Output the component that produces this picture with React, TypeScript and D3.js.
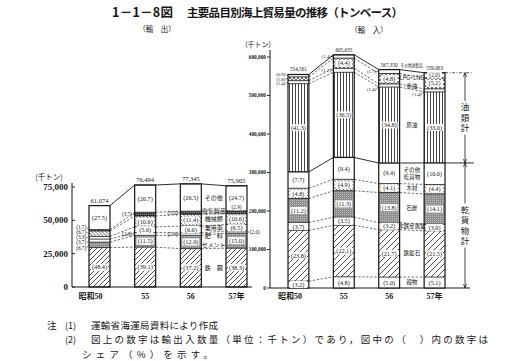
import React from 'react';
import * as d3 from 'd3';

// ---------------- data ----------------
const years = ['50', '55', '56', '57'];
const yearLabels = ['昭和50', '55', '56', '57年'];

// 輸出 (exports) – shares in %, bottom to top
const exportCategories = ['鉄　鋼', 'セメント', '肥　料', '乗用車', '機械類', '電気製品', 'その他'];
const exportTotals = [61074, 76494, 77345, 75905];
const exportSteel = [48.4, 39.1, 37.2, 38.3];
const exportCement = [6.7, 11.5, 12.9, 15.0];
const exportFertilizer = [3.7, 2.8, 2.4, 2.0];
const exportCars = [3.3, 5.6, 6.6, 6.5];
const exportMachinery = [6.7, 10.6, 11.4, 10.6];
const exportElectric = [1.7, 3.7, 3.0, 2.9];
const exportOther = [27.5, 26.7, 26.5, 24.7];
const exportTicks = [0, 25000, 50000, 75000];

// 輸入 (imports) – shares in %, bottom to top
const importCategories = ['穀物', '鉄鉱石', '非鉄金属鉱', '石炭', '木材', 'その他|乾貨物', '原油', '重油', 'LPG+LNG', 'その他油製品'];
const importTotals = [554561, 605635, 567350, 559063];
const importGrain = [3.2, 4.8, 5.0, 5.1];
const importIronOre = [23.8, 22.1, 21.7, 21.5];
const importNonFerrous = [3.7, 3.5, 3.2, 3.0];
const importCoal = [11.2, 11.3, 13.8, 14.1];
const importTimber = [4.8, 4.9, 4.1, 4.4];
const importOtherDry = [7.7, 9.4, 9.4, 10.0];
const importCrude = [41.3, 36.5, 34.8, 33.0];
const importHeavyOil = [1.4, 1.7, 1.4, 1.4];
const importLpgLng = [1.8, 4.4, 4.8, 5.2];
const importOtherOil = [0.9, 1.4, 1.7, 2.0];
const importTicks = [0, 100000, 200000, 300000, 400000, 500000, 600000];
const importGroups = ['油類計', '乾貨物計'];

// ---------------- styles ----------------
const exportSeries = [exportSteel, exportCement, exportFertilizer, exportCars, exportMachinery, exportElectric, exportOther];
const importSeries = [importGrain, importIronOre, importNonFerrous, importCoal, importTimber, importOtherDry, importCrude, importHeavyOil, importLpgLng, importOtherOil];

const exportFills = ['fwd', 'gray', null, null, 'back', 'dense', null];
const importFills = [null, 'fwdw', null, 'gray', 'back', null, 'vert', null, 'cross', null];

const exportLabelPos = [
  ['in', 'in', 'in', 'in'],
  ['L', 'in', 'in', 'in'],
  ['L', 'L', 'L', 'R'],
  ['L', 'in', 'in', 'in'],
  ['L', 'in', 'in', 'in'],
  ['L', 'L', 'L', 'U'],
  ['in', 'in', 'in', 'in'],
];
const importLabelPos = [
  ['in', 'in', 'in', 'in'],
  ['in', 'in', 'in', 'in'],
  ['in', 'in', 'in', 'in'],
  ['in', 'in', 'in', 'in'],
  ['in', 'in', 'in', 'in'],
  ['in', 'in', 'in', 'in'],
  ['in', 'in', 'in', 'in'],
  ['L', 'L', 'LB', 'LB'],
  ['L', 'in', 'in', 'in'],
  ['L', 'L', 'L', 'in'],
];

const SERIF = "'Liberation Serif','DejaVu Serif','Noto Sans CJK JP',serif";
const JP = "'Noto Sans CJK JP','Noto Sans',sans-serif";
const INK = '#161616';

type Seg = { k: number; share: number; y0: number; y1: number };

function computeStacks(series: number[][], totals: number[], y: d3.ScaleLinear<number, number>): Seg[][] {
  return totals.map((total, i) => {
    const cums = Array.from(d3.cumsum(series.map(s => s[i])));
    return series.map((s, k) => {
      const p0 = k === 0 ? 0 : cums[k - 1];
      const p1 = k === series.length - 1 ? 100 : cums[k];
      return { k, share: s[i], y0: y((p0 / 100) * total), y1: y((p1 / 100) * total) };
    });
  });
}

function spread<T extends { ly: number; h?: number }>(items: T[], gap: number): T[] {
  const arr = items.slice().sort((a, b) => a.ly - b.ly);
  for (let it = 0; it < 300; it++) {
    let moved = false;
    for (let j = 0; j < arr.length - 1; j++) {
      const need = gap + ((arr[j].h || 0) + (arr[j + 1].h || 0)) / 2;
      const d = arr[j + 1].ly - arr[j].ly;
      if (d < need - 0.01) {
        const m = (need - d) / 2;
        arr[j].ly -= m;
        arr[j + 1].ly += m;
        moved = true;
      }
    }
    if (!moved) break;
  }
  return arr;
}

function StackChart(props: {
  x: d3.ScaleBand<string>;
  y: d3.ScaleLinear<number, number>;
  stacks: Seg[][];
  totals: number[];
  fills: (string | null)[];
  labelPos: string[][];
  solidIdx: number[];
  gap: number;
  sideFont: number;
  inFont: number;
  totalFont: number;
}) {
  const { x, stacks, totals, fills, labelPos, solidIdx, gap, sideFont, inFont, totalFont } = props;
  const bw = x.bandwidth();
  const K = stacks[0].length;
  const els: React.ReactNode[] = [];

  // connectors
  for (let i = 0; i < stacks.length - 1; i++) {
    const xa = (x(years[i]) as number) + bw;
    const xb = x(years[i + 1]) as number;
    for (let k = 0; k < K; k++) {
      const solid = k === K - 1 || solidIdx.includes(k);
      els.push(
        <line key={`c${i}-${k}`} x1={xa} y1={stacks[i][k].y1} x2={xb} y2={stacks[i + 1][k].y1}
          stroke={INK} strokeWidth={solid ? 0.9 : 0.6} strokeDasharray={solid ? undefined : '2.4,1.6'} />
      );
    }
  }

  // bars
  stacks.forEach((segs, i) => {
    const bx = x(years[i]) as number;
    segs.forEach(seg => {
      const f = fills[seg.k];
      els.push(
        <rect key={`s${i}-${seg.k}`} x={bx} y={seg.y1} width={bw} height={Math.max(0, seg.y0 - seg.y1)}
          fill={f ? `url(#${f})` : '#fff'} />
      );
    });
    segs.forEach(seg => {
      const thick = solidIdx.includes(seg.k);
      els.push(
        <line key={`b${i}-${seg.k}`} x1={bx} x2={bx + bw} y1={seg.y1} y2={seg.y1} stroke={INK} strokeWidth={thick ? 1.3 : 0.8} />
      );
    });
    els.push(
      <rect key={`o${i}`} x={bx} y={segs[K - 1].y1} width={bw} height={segs[0].y0 - segs[K - 1].y1}
        fill="none" stroke={INK} strokeWidth={1.2} />
    );
  });

  // share labels
  stacks.forEach((segs, i) => {
    const bx = x(years[i]) as number;
    const left: { ly: number; cy: number; txt: string }[] = [];
    const right: { ly: number; cy: number; txt: string }[] = [];
    segs.forEach(seg => {
      const pos = labelPos[seg.k][i];
      const cy = (seg.y0 + seg.y1) / 2;
      const txt = `(${seg.share.toFixed(1)})`;
      if (pos === 'in' || pos === 'U') {
        const h = seg.y0 - seg.y1;
        const fs = pos === 'U' ? sideFont : h >= 8 ? inFont : Math.max(sideFont, Math.min(inFont, h + 0.5));
        const ty = pos === 'U' ? seg.y1 - 3.5 : cy;
        const tw = Math.min(bw - 2, fs * 2.55 + 1);
        els.push(
          <g key={`l${i}-${seg.k}`}>
            <rect x={bx + bw / 2 - tw / 2} y={ty - fs / 2 - 0.4} width={tw} height={fs + 0.8} fill="#fff" />
            <text x={bx + bw / 2} y={ty} dy="0.35em" fontSize={fs} textAnchor="middle" fill={INK} fontFamily={SERIF}>{txt}</text>
          </g>
        );
      } else if (pos === 'L') {
        left.push({ ly: cy, cy, txt });
      } else if (pos === 'LB') {
        left.push({ ly: cy + 4, cy, txt });
      } else if (pos === 'R') {
        right.push({ ly: cy, cy, txt });
      }
    });
    spread(left, gap).forEach((it, j) => {
      els.push(
        <g key={`ll${i}-${j}`}>
          <line x1={bx - 2.6} y1={it.ly} x2={bx} y2={it.cy} stroke={INK} strokeWidth={0.5} />
          <text x={bx - 2.8} y={it.ly} dy="0.35em" fontSize={sideFont} textAnchor="end" fill={INK} fontFamily={SERIF}>{it.txt}</text>
        </g>
      );
    });
    spread(right, gap).forEach((it, j) => {
      els.push(
        <g key={`lr${i}-${j}`}>
          <line x1={bx + bw} y1={it.cy} x2={bx + bw + 2.6} y2={it.ly} stroke={INK} strokeWidth={0.5} />
          <text x={bx + bw + 2.8} y={it.ly} dy="0.35em" fontSize={sideFont} textAnchor="start" fill={INK} fontFamily={SERIF}>{it.txt}</text>
        </g>
      );
    });
    // total
    els.push(
      <text key={`t${i}`} x={bx + bw / 2} y={segs[K - 1].y1 - 3} fontSize={totalFont} textAnchor="middle" fill={INK} fontFamily={SERIF}>
        {d3.format(',')(totals[i])}
      </text>
    );
  });

  return <g>{els}</g>;
}

export default function App() {
  const exX = d3.scaleBand<string>().domain(years).range([89, 247]).paddingInner(0.54).paddingOuter(0);
  const exY = d3.scaleLinear().domain([0, 75000]).range([287, 187]);
  const imX = d3.scaleBand<string>().domain(years).range([288, 445]).paddingInner(0.54).paddingOuter(0);
  const imY = d3.scaleLinear().domain([0, 600000]).range([288, 57]);

  const exStacks = computeStacks(exportSeries, exportTotals, exY);
  const imStacks = computeStacks(importSeries, importTotals, imY);

  const exBw = exX.bandwidth();
  const imBw = imX.bandwidth();

  // category labels between the 56 and 57 bars
  const exCatX = ((exX('56') as number) + exBw + (exX('57') as number)) / 2;
  const exCats = spread(
    exportCategories.map((c, k) => {
      const s = exStacks[2][k];
      return { txt: c, ly: (s.y0 + s.y1) / 2 };
    }),
    8.6
  );
  const imCatX = ((imX('56') as number) + imBw + (imX('57') as number)) / 2;
  const imCats = spread(
    importCategories.slice(0, importCategories.length - 1).map((c, k) => {
      const s = imStacks[2][k];
      const lines = c.split('|').length;
      return { txt: c, ly: (s.y0 + s.y1) / 2, h: (lines - 1) * 6.4 };
    }),
    7.6
  );

  // import bracket
  const last = imStacks[3];
  const imRight = (imX('57') as number) + imBw;
  const yOilTop = last[last.length - 1].y1;
  const yDryTop = last[5].y1;
  const yBase = imY(0);
  const brX = 465;

  const fmt = d3.format(',');

  const vertText = (txt: string, cy: number, key: string) => {
    const fs = 8.5;
    const step = fs + 2;
    const chars = Array.from(txt);
    const h = chars.length * step;
    return (
      <g key={key}>
        <rect x={brX - fs / 2 - 1} y={cy - h / 2 - 1} width={fs + 2} height={h + 2} fill="#fff" />
        {chars.map((ch, j) => (
          <text key={j} x={brX} y={cy - h / 2 + (j + 0.5) * step} dy="0.36em" fontSize={fs} textAnchor="middle" fontFamily={JP} fill={INK}>{ch}</text>
        ))}
      </g>
    );
  };

  const stOther = imStacks[2][importCategories.length - 1];

  return (
    <svg width={510} height={361} style={{ position: 'absolute', left: 0, top: 0, background: '#fff' }}>
      <defs>
        <pattern id="fwd" patternUnits="userSpaceOnUse" width="5" height="5">
          <path d="M-1,1 L1,-1 M0,5 L5,0 M4,6 L6,4" stroke={INK} strokeWidth="0.75" />
        </pattern>
        <pattern id="fwdw" patternUnits="userSpaceOnUse" width="6" height="6">
          <path d="M-1,1 L1,-1 M0,6 L6,0 M5,7 L7,5" stroke={INK} strokeWidth="0.75" />
        </pattern>
        <pattern id="back" patternUnits="userSpaceOnUse" width="3.5" height="3.5">
          <path d="M-1,-1 L4.5,4.5 M-1,2.5 L1,4.5 M2.5,-1 L4.5,1" stroke={INK} strokeWidth="0.7" />
        </pattern>
        <pattern id="vert" patternUnits="userSpaceOnUse" width="3" height="4">
          <path d="M1.5,0 V4" stroke={INK} strokeWidth="0.8" />
        </pattern>
        <pattern id="gray" patternUnits="userSpaceOnUse" width="2" height="2">
          <rect width="2" height="2" fill="#8e8e8e" />
          <rect width="0.8" height="0.8" fill="#d8d8d8" />
        </pattern>
        <pattern id="dense" patternUnits="userSpaceOnUse" width="2" height="2">
          <rect width="2" height="2" fill="#3a3a3a" />
          <rect width="0.8" height="0.8" fill="#bbb" />
        </pattern>
        <pattern id="cross" patternUnits="userSpaceOnUse" width="4" height="4">
          <rect width="4" height="4" fill="#f4f4f4" />
          <path d="M0,0 L4,4 M4,0 L0,4" stroke={INK} strokeWidth="0.6" />
        </pattern>
      </defs>
      <rect width={510} height={361} fill="#fff" />

      {/* Title */}
      <text x={112} y={17} fontSize={12.5} fontWeight={700} fontFamily={JP} fill={INK} textLength={61} lengthAdjust="spacing">1－1－8図</text>
      <text x={187} y={17} fontSize={11.5} fontWeight={700} fontFamily={JP} fill={INK} textLength={216} lengthAdjust="spacing">主要品目別海上貿易量の推移（トンベース）</text>
      <text x={157} y={32} fontSize={7.5} fontFamily={JP} fill={INK} textAnchor="middle">（輸　出）</text>
      <text x={369} y={33} fontSize={7.5} fontFamily={JP} fill={INK} textAnchor="middle">（輸　入）</text>

      {/* Export axis */}
      <text x={49} y={180} fontSize={7.5} fontFamily={JP} fill={INK} textAnchor="middle">(千トン)</text>
      <line x1={72} x2={72} y1={exY(0)} y2={183} stroke={INK} strokeWidth={1} />
      <line x1={72} x2={252} y1={exY(0)} y2={exY(0)} stroke={INK} strokeWidth={1} />
      {exportTicks.map(t => (
        <g key={`et${t}`}>
          <line x1={72} x2={75} y1={exY(t)} y2={exY(t)} stroke={INK} strokeWidth={0.9} />
          <text x={68} y={exY(t)} dy="0.35em" fontSize={9} fontWeight={700} fontFamily={SERIF} fill={INK} textAnchor="end">{fmt(t)}</text>
        </g>
      ))}
      {yearLabels.map((l, i) => (
        <text key={`ex${i}`} x={(exX(years[i]) as number) + exBw / 2 + (i === 0 ? 3 : 0)} y={299} fontSize={8} fontWeight={700}
          fontFamily={SERIF} fill={INK} textAnchor={i === 0 ? 'end' : 'middle'}>{l}</text>
      ))}

      <StackChart x={exX} y={exY} stacks={exStacks} totals={exportTotals} fills={exportFills} labelPos={exportLabelPos}
        solidIdx={[]} gap={5.2} sideFont={5.2} inFont={6.3} totalFont={6.5} />

      {exCats.map((c, j) => (
        <text key={`ec${j}`} x={exCatX} y={c.ly} dy="0.35em" fontSize={6} fontFamily={JP} fill={INK} textAnchor="middle">{c.txt}</text>
      ))}

      {/* Import axis */}
      <text x={258} y={46.5} fontSize={7} fontFamily={JP} fill={INK} textAnchor="middle">(千トン)</text>
      <line x1={270} x2={270} y1={yBase} y2={50} stroke={INK} strokeWidth={1} />
      <line x1={270} x2={470} y1={yBase} y2={yBase} stroke={INK} strokeWidth={1} />
      {importTicks.map(t => (
        <g key={`it${t}`}>
          <line x1={267} x2={270} y1={imY(t)} y2={imY(t)} stroke={INK} strokeWidth={0.9} />
          <text x={266} y={imY(t)} dy="0.35em" fontSize={5.3} fontWeight={700} fontFamily={SERIF} fill={INK} textAnchor="end">{fmt(t)}</text>
        </g>
      ))}
      {yearLabels.map((l, i) => (
        <text key={`ix${i}`} x={(imX(years[i]) as number) + imBw / 2 + (i === 0 ? 3.5 : 0)} y={299} fontSize={8} fontWeight={700}
          fontFamily={SERIF} fill={INK} textAnchor={i === 0 ? 'end' : 'middle'}>{l}</text>
      ))}

      <StackChart x={imX} y={imY} stacks={imStacks} totals={importTotals} fills={importFills} labelPos={importLabelPos}
        solidIdx={[5]} gap={4.8} sideFont={4.7} inFont={6.2} totalFont={5.2} />

      {imCats.map((c, j) => {
        const parts = c.txt.split('|');
        return (
          <text key={`ic${j}`} x={imCatX} y={c.ly} fontSize={5.6} fontFamily={JP} fill={INK} textAnchor="middle">
            {parts.map((p, q) => (
              <tspan key={q} x={imCatX} dy={q === 0 ? `${0.35 - (parts.length - 1) * 0.6}em` : '1.2em'}>{p}</tspan>
            ))}
          </text>
        );
      })}
      <text x={(imX('56') as number) + imBw + 1} y={stOther.y1 - 3} fontSize={4.6} fontFamily={JP} fill={INK} textAnchor="start"
        textLength={22} lengthAdjust="spacingAndGlyphs">
        {importCategories[importCategories.length - 1]}
      </text>

      {/* bracket */}
      <line x1={imRight} x2={472} y1={yOilTop} y2={yOilTop} stroke={INK} strokeWidth={0.7} strokeDasharray="3,1.5,1,1.5" />
      <line x1={imRight} x2={474} y1={yDryTop} y2={yDryTop} stroke={INK} strokeWidth={0.9} />
      <line x1={brX} x2={brX} y1={yOilTop} y2={yBase} stroke={INK} strokeWidth={0.8} />
      <path d={`M${brX - 1.6},${yOilTop + 4} L${brX},${yOilTop} L${brX + 1.6},${yOilTop + 4}`} fill="none" stroke={INK} strokeWidth={0.7} />
      <path d={`M${brX - 1.6},${yDryTop - 4} L${brX},${yDryTop} L${brX + 1.6},${yDryTop - 4}`} fill="none" stroke={INK} strokeWidth={0.7} />
      <path d={`M${brX - 1.6},${yDryTop + 4} L${brX},${yDryTop} L${brX + 1.6},${yDryTop + 4}`} fill="none" stroke={INK} strokeWidth={0.7} />
      <path d={`M${brX - 1.6},${yBase - 4} L${brX},${yBase} L${brX + 1.6},${yBase - 4}`} fill="none" stroke={INK} strokeWidth={0.7} />
      {vertText(importGroups[0], (yOilTop + yDryTop) / 2, 'g0')}
      {vertText(importGroups[1], (yDryTop + yBase) / 2, 'g1')}

      {/* Notes */}
      <text x={47} y={328.5} fontSize={9.5} fontFamily={JP} fill={INK}>注</text>
      <text x={65} y={328.5} fontSize={9} fontFamily={JP} fill={INK}>(1)</text>
      <text x={91} y={328.5} fontSize={9.5} fontFamily={JP} fill={INK} textLength={127} lengthAdjust="spacing">運輸省海運局資料により作成</text>
      <text x={65} y={343} fontSize={9} fontFamily={JP} fill={INK}>(2)</text>
      <text x={91} y={343} fontSize={9.5} fontFamily={JP} fill={INK} textLength={397} lengthAdjust="spacing">図上の数字は輸出入数量（単位：千トン）であり，図中の（　）内の数字は</text>
      <text x={82} y={357.5} fontSize={9.5} fontFamily={JP} fill={INK} textLength={131} lengthAdjust="spacing">シェア（%）を示す。</text>
    </svg>
  );
}
